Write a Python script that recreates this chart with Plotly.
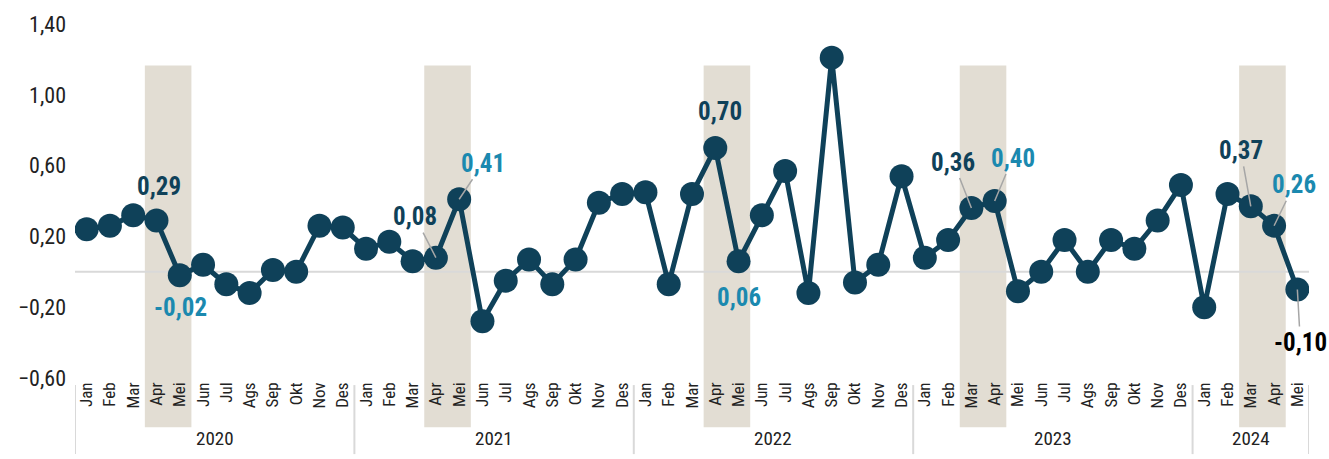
import plotly.graph_objects as go

months = ["Jan", "Feb", "Mar", "Apr", "Mei", "Jun", "Jul", "Ags", "Sep", "Okt", "Nov", "Des"]
years = ["2020", "2021", "2022", "2023", "2024"]
months_per_year = [12, 12, 12, 12, 5]

values_2020 = [0.24, 0.26, 0.32, 0.29, -0.02, 0.04, -0.07, -0.12, 0.01, 0.00, 0.26, 0.25]
values_2021 = [0.13, 0.17, 0.06, 0.08, 0.41, -0.28, -0.05, 0.07, -0.07, 0.07, 0.39, 0.44]
values_2022 = [0.45, -0.07, 0.44, 0.70, 0.06, 0.32, 0.57, -0.12, 1.21, -0.06, 0.04, 0.54]
values_2023 = [0.08, 0.18, 0.36, 0.40, -0.11, 0.00, 0.18, 0.00, 0.18, 0.13, 0.29, 0.49]
values_2024 = [-0.20, 0.44, 0.37, 0.26, -0.10]

# shaded periods: (year, first month index, last month index)
shaded = [("2020", 3, 4), ("2021", 3, 4), ("2022", 3, 4), ("2023", 2, 3), ("2024", 2, 3)]

# labelled points: (year, month index, colour key, text offset x, text offset y, leader)
labels = [
    ("2020", 3, "dark", 3, -34, False),
    ("2020", 4, "teal", 1, 32, False),
    ("2021", 3, "dark", -21, -41, True),
    ("2021", 4, "teal", 24, -36, True),
    ("2022", 3, "dark", 5, -36, False),
    ("2022", 4, "teal", 0, 36, False),
    ("2023", 2, "dark", -18, -46, True),
    ("2023", 3, "teal", 18, -43, True),
    ("2024", 2, "dark", -10, -56, True),
    ("2024", 3, "teal", 20, -41, True),
    ("2024", 4, "black", 3, 53, True),
]

DARK = "#0F4159"
TEAL = "#1B89AF"
colors = {"dark": DARK, "teal": TEAL, "black": "#000000"}
FONT = "Liberation Sans Narrow, Arial Narrow, Roboto Condensed, Liberation Sans, Arial, sans-serif"

all_values = values_2020 + values_2021 + values_2022 + values_2023 + values_2024
year_values = dict(zip(years, [values_2020, values_2021, values_2022, values_2023, values_2024]))
year_start = {}
tick_text = []
pos = 0
for y, n in zip(years, months_per_year):
    year_start[y] = pos
    tick_text += months[:n]
    pos += n
xs = list(range(len(all_values)))

fig = go.Figure()
fig.add_trace(go.Scatter(
    x=xs, y=all_values, mode="lines+markers",
    line=dict(color=DARK, width=5),
    marker=dict(color=DARK, size=24),
    hoverinfo="skip", showlegend=False,
))

shapes = []
for y, a, b in shaded:
    s = year_start[y]
    shapes.append(dict(type="rect", xref="x", yref="paper",
                       x0=s + a - 0.5, x1=s + b + 0.5, y0=-0.139, y1=0.883,
                       fillcolor="#E2DDD3", line=dict(width=0), layer="below"))
shapes.append(dict(type="line", xref="paper", yref="y", x0=0, x1=1, y0=0, y1=0,
                   line=dict(color="#D9D9D9", width=2), layer="below"))
# year group dividers
bounds = [-0.5]
for y, n in zip(years, months_per_year):
    bounds.append(year_start[y] + n - 0.5)
for bx in bounds:
    shapes.append(dict(type="line", xref="x", yref="paper", x0=bx, x1=bx,
                       y0=-0.02, y1=-0.215, line=dict(color="#D9D9D9", width=2)))

annotations = []
for y, n in zip(years, months_per_year):
    annotations.append(dict(x=year_start[y] + (n - 1) / 2, y=-0.172, xref="x", yref="paper",
                            text=y, showarrow=False, yanchor="middle",
                            font=dict(family=FONT, size=19, color="#222222")))
for y, m, ck, ox, oy, leader in labels:
    v = year_values[y][m]
    txt = f"{v:.2f}".replace(".", ",")
    annotations.append(dict(
        x=year_start[y] + m, y=v, xref="x", yref="y", text=f"<b>{txt}</b>",
        showarrow=True, ax=ox, ay=oy, axref="pixel", ayref="pixel",
        arrowhead=0, arrowwidth=1.5,
        arrowcolor="#A6A6A6" if leader else "rgba(0,0,0,0)",
        standoff=0,
        font=dict(family=FONT, size=25, color=colors[ck]),
    ))

fig.update_layout(
    width=1329, height=459,
    margin=dict(l=75, r=20, t=18, b=81),
    paper_bgcolor="white", plot_bgcolor="white",
    separators=",.",
    shapes=shapes, annotations=annotations,
    xaxis=dict(range=[-0.5, len(all_values) - 0.5], tickmode="array", tickvals=xs,
               ticktext=tick_text, tickangle=-90, showgrid=False, zeroline=False,
               showline=False, ticks="", tickfont=dict(family=FONT, size=17, color="#222222")),
    yaxis=dict(range=[-0.6, 1.4], tickmode="array", tickvals=[-0.6, -0.2, 0.2, 0.6, 1.0, 1.4],
               tickformat=".2f", showgrid=False, zeroline=False, showline=False, ticks="",
               ticklabelstandoff=8,
               tickfont=dict(family=FONT, size=22, color="#222222")),
)

fig.write_html("out.html", config={"displayModeBar": False},
               post_script="document.body.style.margin='0';document.body.style.overflow='hidden';")
